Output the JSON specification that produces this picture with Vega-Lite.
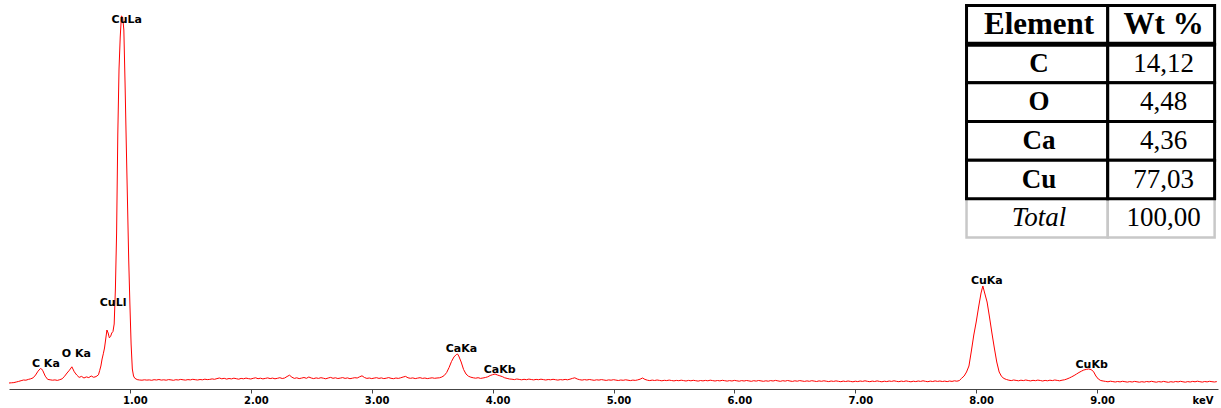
{
  "$schema": "https://vega.github.io/schema/vega-lite/v6.json",
  "width": 1209,
  "height": 389,
  "autosize": {"type": "none"},
  "padding": {"left": 9, "right": 3, "top": 0, "bottom": 19},
  "background": "white",
  "config": {"view": {"stroke": null}},
  "datasets": {
    "spectrum": [
      {"keV":0.00,"counts":60},{"keV":0.02,"counts":62},{"keV":0.04,"counts":64},{"keV":0.06,"counts":70},{"keV":0.08,"counts":76},
      {"keV":0.10,"counts":83},{"keV":0.12,"counts":90},{"keV":0.14,"counts":88},{"keV":0.16,"counts":96},{"keV":0.18,"counts":102},
      {"keV":0.20,"counts":112},{"keV":0.22,"counts":140},{"keV":0.24,"counts":178},{"keV":0.26,"counts":205},{"keV":0.27,"counts":200},
      {"keV":0.28,"counts":182},{"keV":0.30,"counts":128},{"keV":0.32,"counts":96},{"keV":0.34,"counts":92},{"keV":0.36,"counts":88},
      {"keV":0.38,"counts":91},{"keV":0.40,"counts":86},{"keV":0.42,"counts":93},{"keV":0.44,"counts":102},{"keV":0.46,"counts":128},
      {"keV":0.48,"counts":160},{"keV":0.50,"counts":188},{"keV":0.52,"counts":222},{"keV":0.54,"counts":172},{"keV":0.56,"counts":140},
      {"keV":0.58,"counts":116},{"keV":0.60,"counts":126},{"keV":0.62,"counts":110},{"keV":0.64,"counts":121},{"keV":0.66,"counts":114},
      {"keV":0.68,"counts":130},{"keV":0.70,"counts":117},{"keV":0.72,"counts":124},{"keV":0.74,"counts":142},{"keV":0.75,"counts":185},
      {"keV":0.76,"counts":230},{"keV":0.77,"counts":300},{"keV":0.78,"counts":352},{"keV":0.79,"counts":410},{"keV":0.80,"counts":500},
      {"keV":0.81,"counts":590},{"keV":0.82,"counts":560},{"keV":0.83,"counts":512},{"keV":0.84,"counts":525},{"keV":0.85,"counts":560},
      {"keV":0.86,"counts":575},{"keV":0.87,"counts":650},{"keV":0.88,"counts":1000},{"keV":0.89,"counts":1560},{"keV":0.90,"counts":2550},
      {"keV":0.91,"counts":3200},{"keV":0.92,"counts":3520},{"keV":0.93,"counts":3730},{"keV":0.94,"counts":3720},{"keV":0.95,"counts":3590},
      {"keV":0.96,"counts":3050},{"keV":0.97,"counts":2450},{"keV":0.98,"counts":1880},{"keV":0.99,"counts":1300},{"keV":1.00,"counts":850},
      {"keV":1.01,"counts":450},{"keV":1.02,"counts":200},{"keV":1.03,"counts":130},{"keV":1.04,"counts":108},
      {"keV":1.06,"counts":94},{"keV":1.08,"counts":90},{"keV":1.10,"counts":88},{"keV":1.12,"counts":92},{"keV":1.14,"counts":89},
      {"keV":1.16,"counts":91},{"keV":1.18,"counts":87},{"keV":1.20,"counts":93},{"keV":1.22,"counts":90},{"keV":1.24,"counts":95},
      {"keV":1.26,"counts":89},{"keV":1.28,"counts":92},{"keV":1.30,"counts":88},{"keV":1.32,"counts":94},{"keV":1.34,"counts":91},
      {"keV":1.36,"counts":87},{"keV":1.38,"counts":93},{"keV":1.40,"counts":90},{"keV":1.42,"counts":96},{"keV":1.44,"counts":92},
      {"keV":1.46,"counts":89},{"keV":1.48,"counts":94},{"keV":1.50,"counts":91},{"keV":1.52,"counts":97},{"keV":1.54,"counts":93},
      {"keV":1.56,"counts":90},{"keV":1.58,"counts":95},{"keV":1.60,"counts":92},{"keV":1.62,"counts":98},{"keV":1.64,"counts":94},
      {"keV":1.66,"counts":96},{"keV":1.68,"counts":101},{"keV":1.70,"counts":97},
      {"keV":1.72,"counts":104},{"keV":1.74,"counts":110},{"keV":1.76,"counts":102},{"keV":1.78,"counts":107},{"keV":1.80,"counts":99},
      {"keV":1.82,"counts":105},{"keV":1.84,"counts":101},{"keV":1.86,"counts":108},{"keV":1.88,"counts":103},{"keV":1.90,"counts":98},
      {"keV":1.92,"counts":106},{"keV":1.94,"counts":102},{"keV":1.96,"counts":109},{"keV":1.98,"counts":104},{"keV":2.00,"counts":100},
      {"keV":2.02,"counts":107},{"keV":2.04,"counts":112},{"keV":2.06,"counts":103},{"keV":2.08,"counts":108},{"keV":2.10,"counts":101},
      {"keV":2.12,"counts":106},{"keV":2.14,"counts":111},{"keV":2.16,"counts":104},{"keV":2.18,"counts":109},{"keV":2.20,"counts":102},
      {"keV":2.22,"counts":107},{"keV":2.24,"counts":113},{"keV":2.26,"counts":105},{"keV":2.28,"counts":110},{"keV":2.30,"counts":125},
      {"keV":2.32,"counts":138},{"keV":2.34,"counts":118},{"keV":2.36,"counts":106},{"keV":2.38,"counts":112},{"keV":2.40,"counts":104},
      {"keV":2.42,"counts":109},{"keV":2.44,"counts":115},{"keV":2.46,"counts":107},{"keV":2.48,"counts":120},{"keV":2.50,"counts":110},
      {"keV":2.52,"counts":104},{"keV":2.54,"counts":111},{"keV":2.56,"counts":106},{"keV":2.58,"counts":113},{"keV":2.60,"counts":108},
      {"keV":2.62,"counts":102},{"keV":2.64,"counts":110},{"keV":2.66,"counts":116},{"keV":2.68,"counts":107},{"keV":2.70,"counts":112},
      {"keV":2.72,"counts":105},{"keV":2.74,"counts":109},{"keV":2.76,"counts":114},{"keV":2.78,"counts":106},{"keV":2.80,"counts":111},
      {"keV":2.82,"counts":103},{"keV":2.84,"counts":108},{"keV":2.86,"counts":113},{"keV":2.88,"counts":110},{"keV":2.90,"counts":122},
      {"keV":2.92,"counts":132},{"keV":2.94,"counts":115},{"keV":2.96,"counts":106},{"keV":2.98,"counts":110},{"keV":3.00,"counts":104},
      {"keV":3.02,"counts":109},{"keV":3.04,"counts":113},{"keV":3.06,"counts":106},{"keV":3.08,"counts":111},{"keV":3.10,"counts":104},
      {"keV":3.12,"counts":108},{"keV":3.14,"counts":114},{"keV":3.16,"counts":107},{"keV":3.18,"counts":103},{"keV":3.20,"counts":110},
      {"keV":3.22,"counts":106},{"keV":3.24,"counts":112},{"keV":3.26,"counts":120},{"keV":3.28,"counts":126},{"keV":3.30,"counts":112},
      {"keV":3.32,"counts":107},{"keV":3.34,"counts":111},{"keV":3.36,"counts":104},{"keV":3.38,"counts":109},{"keV":3.40,"counts":113},
      {"keV":3.42,"counts":106},{"keV":3.44,"counts":110},{"keV":3.46,"counts":104},{"keV":3.48,"counts":108},{"keV":3.50,"counts":112},
      {"keV":3.52,"counts":107},{"keV":3.54,"counts":110},
      {"keV":3.56,"counts":112},{"keV":3.58,"counts":120},{"keV":3.60,"counts":135},{"keV":3.62,"counts":165},{"keV":3.64,"counts":215},
      {"keV":3.66,"counts":275},{"keV":3.68,"counts":320},{"keV":3.70,"counts":345},{"keV":3.71,"counts":350},{"keV":3.72,"counts":330},
      {"keV":3.74,"counts":270},{"keV":3.76,"counts":195},{"keV":3.78,"counts":150},{"keV":3.80,"counts":128},{"keV":3.82,"counts":118},
      {"keV":3.84,"counts":112},{"keV":3.86,"counts":108},{"keV":3.88,"counts":113},{"keV":3.90,"counts":106},{"keV":3.92,"counts":110},
      {"keV":3.94,"counts":115},{"keV":3.96,"counts":122},{"keV":3.98,"counts":135},{"keV":4.00,"counts":143},{"keV":4.02,"counts":150},
      {"keV":4.04,"counts":140},{"keV":4.06,"counts":132},{"keV":4.08,"counts":124},{"keV":4.10,"counts":112},{"keV":4.12,"counts":106},
      {"keV":4.14,"counts":100},
      {"keV":4.16,"counts":98},{"keV":4.18,"counts":94},{"keV":4.20,"counts":100},{"keV":4.22,"counts":96},{"keV":4.24,"counts":92},
      {"keV":4.26,"counts":97},{"keV":4.28,"counts":93},{"keV":4.30,"counts":99},{"keV":4.32,"counts":95},{"keV":4.34,"counts":91},
      {"keV":4.36,"counts":96},{"keV":4.38,"counts":93},{"keV":4.40,"counts":98},{"keV":4.42,"counts":94},{"keV":4.44,"counts":90},
      {"keV":4.46,"counts":95},{"keV":4.48,"counts":92},{"keV":4.50,"counts":97},{"keV":4.52,"counts":93},{"keV":4.54,"counts":89},
      {"keV":4.56,"counts":94},{"keV":4.58,"counts":91},{"keV":4.60,"counts":96},{"keV":4.62,"counts":92},{"keV":4.64,"counts":98},
      {"keV":4.66,"counts":106},{"keV":4.68,"counts":112},{"keV":4.70,"counts":100},{"keV":4.72,"counts":93},{"keV":4.74,"counts":89},
      {"keV":4.76,"counts":94},{"keV":4.78,"counts":90},{"keV":4.80,"counts":95},{"keV":4.82,"counts":91},{"keV":4.84,"counts":87},
      {"keV":4.86,"counts":92},{"keV":4.88,"counts":89},{"keV":4.90,"counts":94},{"keV":4.92,"counts":90},{"keV":4.94,"counts":86},
      {"keV":4.96,"counts":91},{"keV":4.98,"counts":88},{"keV":5.00,"counts":93},{"keV":5.02,"counts":89},{"keV":5.04,"counts":85},
      {"keV":5.06,"counts":90},{"keV":5.08,"counts":87},{"keV":5.10,"counts":92},{"keV":5.12,"counts":88},{"keV":5.14,"counts":84},
      {"keV":5.16,"counts":89},{"keV":5.18,"counts":86},{"keV":5.20,"counts":91},{"keV":5.22,"counts":98},{"keV":5.24,"counts":110},
      {"keV":5.26,"counts":96},{"keV":5.28,"counts":88},{"keV":5.30,"counts":84},{"keV":5.32,"counts":89},{"keV":5.34,"counts":85},
      {"keV":5.36,"counts":90},{"keV":5.38,"counts":86},{"keV":5.40,"counts":82},{"keV":5.42,"counts":87},{"keV":5.44,"counts":84},
      {"keV":5.46,"counts":89},{"keV":5.48,"counts":85},{"keV":5.50,"counts":81},{"keV":5.52,"counts":86},{"keV":5.54,"counts":83},
      {"keV":5.56,"counts":88},{"keV":5.58,"counts":84},{"keV":5.60,"counts":80},{"keV":5.62,"counts":86},{"keV":5.64,"counts":82},
      {"keV":5.66,"counts":87},{"keV":5.68,"counts":83},{"keV":5.70,"counts":79},{"keV":5.72,"counts":85},{"keV":5.74,"counts":81},
      {"keV":5.76,"counts":86},{"keV":5.78,"counts":82},{"keV":5.80,"counts":88},{"keV":5.82,"counts":84},{"keV":5.84,"counts":80},
      {"keV":5.86,"counts":85},{"keV":5.88,"counts":81},{"keV":5.90,"counts":87},{"keV":5.92,"counts":83},{"keV":5.94,"counts":79},
      {"keV":5.96,"counts":84},{"keV":5.98,"counts":80},{"keV":6.00,"counts":86},{"keV":6.02,"counts":82},{"keV":6.04,"counts":78},
      {"keV":6.06,"counts":84},{"keV":6.08,"counts":80},{"keV":6.10,"counts":85},{"keV":6.12,"counts":81},{"keV":6.14,"counts":77},
      {"keV":6.16,"counts":83},{"keV":6.18,"counts":79},{"keV":6.20,"counts":85},{"keV":6.22,"counts":81},{"keV":6.24,"counts":77},
      {"keV":6.26,"counts":82},{"keV":6.28,"counts":78},{"keV":6.30,"counts":84},{"keV":6.32,"counts":80},{"keV":6.34,"counts":86},
      {"keV":6.36,"counts":81},{"keV":6.38,"counts":77},{"keV":6.40,"counts":83},{"keV":6.42,"counts":79},{"keV":6.44,"counts":85},
      {"keV":6.46,"counts":80},{"keV":6.48,"counts":76},{"keV":6.50,"counts":82},{"keV":6.52,"counts":78},{"keV":6.54,"counts":84},
      {"keV":6.56,"counts":80},{"keV":6.58,"counts":76},{"keV":6.60,"counts":81},{"keV":6.62,"counts":77},{"keV":6.64,"counts":83},
      {"keV":6.66,"counts":79},{"keV":6.68,"counts":75},{"keV":6.70,"counts":81},{"keV":6.72,"counts":77},{"keV":6.74,"counts":82},
      {"keV":6.76,"counts":78},{"keV":6.78,"counts":74},{"keV":6.80,"counts":80},{"keV":6.82,"counts":76},{"keV":6.84,"counts":81},
      {"keV":6.86,"counts":77},{"keV":6.88,"counts":73},{"keV":6.90,"counts":79},{"keV":6.92,"counts":75},{"keV":6.94,"counts":80},
      {"keV":6.96,"counts":76},{"keV":6.98,"counts":72},{"keV":7.00,"counts":78},{"keV":7.02,"counts":74},{"keV":7.04,"counts":80},
      {"keV":7.06,"counts":76},{"keV":7.08,"counts":82},{"keV":7.10,"counts":77},{"keV":7.12,"counts":73},{"keV":7.14,"counts":79},
      {"keV":7.16,"counts":75},{"keV":7.18,"counts":81},{"keV":7.20,"counts":76},{"keV":7.22,"counts":72},{"keV":7.24,"counts":78},
      {"keV":7.26,"counts":74},{"keV":7.28,"counts":80},{"keV":7.30,"counts":76},{"keV":7.32,"counts":82},{"keV":7.34,"counts":77},
      {"keV":7.36,"counts":73},{"keV":7.38,"counts":79},{"keV":7.40,"counts":75},{"keV":7.42,"counts":81},{"keV":7.44,"counts":76},
      {"keV":7.46,"counts":72},{"keV":7.48,"counts":78},{"keV":7.50,"counts":74},{"keV":7.52,"counts":80},{"keV":7.54,"counts":76},
      {"keV":7.56,"counts":82},{"keV":7.58,"counts":77},{"keV":7.60,"counts":73},{"keV":7.62,"counts":79},{"keV":7.64,"counts":75},
      {"keV":7.66,"counts":81},{"keV":7.68,"counts":76},{"keV":7.70,"counts":80},{"keV":7.72,"counts":75},{"keV":7.74,"counts":79},
      {"keV":7.76,"counts":74},{"keV":7.78,"counts":80},{"keV":7.80,"counts":76},{"keV":7.82,"counts":82},{"keV":7.84,"counts":78},
      {"keV":7.86,"counts":84},
      {"keV":7.88,"counts":108},{"keV":7.90,"counts":130},{"keV":7.92,"counts":170},{"keV":7.94,"counts":230},{"keV":7.96,"counts":380},
      {"keV":7.98,"counts":540},{"keV":8.00,"counts":670},{"keV":8.02,"counts":820},{"keV":8.04,"counts":960},{"keV":8.055,"counts":1030},
      {"keV":8.07,"counts":960},{"keV":8.09,"counts":870},{"keV":8.11,"counts":720},{"keV":8.13,"counts":560},{"keV":8.15,"counts":410},
      {"keV":8.17,"counts":270},{"keV":8.19,"counts":170},{"keV":8.21,"counts":125},{"keV":8.23,"counts":105},{"keV":8.25,"counts":95},
      {"keV":8.27,"counts":88},{"keV":8.29,"counts":84},{"keV":8.31,"counts":90},{"keV":8.33,"counts":86},{"keV":8.35,"counts":82},
      {"keV":8.37,"counts":88},{"keV":8.39,"counts":84},{"keV":8.41,"counts":90},{"keV":8.43,"counts":85},{"keV":8.45,"counts":81},
      {"keV":8.47,"counts":87},{"keV":8.49,"counts":83},{"keV":8.51,"counts":89},{"keV":8.53,"counts":85},{"keV":8.55,"counts":80},
      {"keV":8.57,"counts":86},{"keV":8.59,"counts":82},{"keV":8.61,"counts":88},{"keV":8.63,"counts":84},{"keV":8.65,"counts":90},
      {"keV":8.67,"counts":86},{"keV":8.69,"counts":82},{"keV":8.71,"counts":88},{"keV":8.73,"counts":92},
      {"keV":8.75,"counts":100},{"keV":8.77,"counts":110},{"keV":8.79,"counts":122},{"keV":8.81,"counts":135},{"keV":8.83,"counts":150},
      {"keV":8.85,"counts":165},{"keV":8.87,"counts":178},{"keV":8.89,"counts":190},{"keV":8.91,"counts":196},{"keV":8.93,"counts":200},
      {"keV":8.95,"counts":194},{"keV":8.97,"counts":175},{"keV":8.99,"counts":130},{"keV":9.01,"counts":100},{"keV":9.03,"counts":85},
      {"keV":9.05,"counts":80},
      {"keV":9.07,"counts":76},{"keV":9.09,"counts":72},{"keV":9.11,"counts":78},{"keV":9.13,"counts":74},{"keV":9.15,"counts":70},
      {"keV":9.17,"counts":75},{"keV":9.19,"counts":71},{"keV":9.21,"counts":77},{"keV":9.23,"counts":73},{"keV":9.25,"counts":69},
      {"keV":9.27,"counts":74},{"keV":9.29,"counts":70},{"keV":9.31,"counts":76},{"keV":9.33,"counts":72},{"keV":9.35,"counts":68},
      {"keV":9.37,"counts":73},{"keV":9.39,"counts":69},{"keV":9.41,"counts":75},{"keV":9.43,"counts":71},{"keV":9.45,"counts":77},
      {"keV":9.47,"counts":72},{"keV":9.49,"counts":68},{"keV":9.51,"counts":74},{"keV":9.53,"counts":70},{"keV":9.55,"counts":76},
      {"keV":9.57,"counts":71},{"keV":9.59,"counts":67},{"keV":9.61,"counts":73},{"keV":9.63,"counts":69},{"keV":9.65,"counts":75},
      {"keV":9.67,"counts":71},{"keV":9.69,"counts":77},{"keV":9.71,"counts":72},{"keV":9.73,"counts":68},{"keV":9.75,"counts":74},
      {"keV":9.77,"counts":70},{"keV":9.79,"counts":76},{"keV":9.81,"counts":72},{"keV":9.83,"counts":78},{"keV":9.85,"counts":73},
      {"keV":9.87,"counts":69},{"keV":9.89,"counts":75},{"keV":9.91,"counts":71},{"keV":9.93,"counts":77},{"keV":9.95,"counts":73},
      {"keV":9.97,"counts":70},{"keV":9.99,"counts":74}
    ],
    "peaks": [
      {"line": "C Ka", "keV": 0.305, "counts": 223},
      {"line": "O Ka", "keV": 0.557, "counts": 323},
      {"line": "CuLl", "keV": 0.861, "counts": 830},
      {"line": "CuLa", "keV": 0.974, "counts": 3657},
      {"line": "CaKa", "keV": 3.742, "counts": 373},
      {"line": "CaKb", "keV": 4.058, "counts": 157},
      {"line": "CuKa", "keV": 8.088, "counts": 1050},
      {"line": "CuKb", "keV": 8.955, "counts": 207}
    ],
    "composition": [
      {"element": "Element", "wt": "Wt %", "part": "header"},
      {"element": "C", "wt": "14,12", "part": "body"},
      {"element": "O", "wt": "4,48", "part": "body"},
      {"element": "Ca", "wt": "4,36", "part": "body"},
      {"element": "Cu", "wt": "77,03", "part": "body"},
      {"element": "Total", "wt": "100,00", "part": "total"}
    ]
  },
  "layer": [
    {
      "data": {"name": "spectrum"},
      "mark": {"type": "line", "color": "#ff0000", "strokeWidth": 1},
      "encoding": {
        "x": {
          "field": "keV", "type": "quantitative",
          "scale": {"domain": [0, 10], "nice": false, "zero": false},
          "axis": {
            "values": [1, 2, 3, 4, 5, 6, 7, 8, 9],
            "format": ".2f",
            "grid": false,
            "domainColor": "#444444",
            "tickColor": "#444444",
            "tickSize": 4,
            "labelFont": "DejaVu Sans",
            "labelFontWeight": "bold",
            "labelFontSize": 10,
            "labelColor": "#000000",
            "labelBaseline": "alphabetic",
            "labelPadding": 10,
            "labelOffset": 5,
            "labelFlush": false,
            "labelOverlap": false,
            "title": "keV",
            "titleFont": "DejaVu Sans",
            "titleFontWeight": "bold",
            "titleFontSize": 10,
            "titleColor": "#000000",
            "titleAnchor": "end",
            "titleAlign": "right",
            "titleBaseline": "alphabetic",
            "titleX": 1204,
            "titleY": 14
          }
        },
        "y": {
          "field": "counts", "type": "quantitative",
          "scale": {"domain": [0, 3890], "nice": false, "zero": true},
          "axis": null
        }
      }
    },
    {
      "data": {"name": "peaks"},
      "mark": {
        "type": "text", "font": "DejaVu Sans", "fontWeight": "bold",
        "fontSize": 11, "align": "center", "baseline": "alphabetic", "color": "#000000"
      },
      "encoding": {
        "x": {"field": "keV", "type": "quantitative"},
        "y": {
          "field": "counts", "type": "quantitative",
          "scale": {"domain": [0, 3890], "nice": false, "zero": true},
          "axis": null
        },
        "text": {"field": "line"}
      }
    },
    {
      "data": {"name": "composition"},
      "encoding": {
        "y": {
          "field": "element", "type": "nominal",
          "scale": {
            "type": "band",
            "domain": ["Element", "C", "O", "Ca", "Cu", "Total"],
            "range": [5.5, 237.5],
            "paddingInner": 0, "paddingOuter": 0, "round": false
          },
          "axis": null
        }
      },
      "layer": [
        {
          "transform": [{"filter": "datum.part === 'total'"}],
          "mark": {"type": "rect", "fill": "white", "stroke": "#c8c8c8", "strokeWidth": 2.5},
          "encoding": {"x": {"datum": 7.92}, "x2": {"datum": 9.088}}
        },
        {
          "transform": [{"filter": "datum.part === 'total'"}],
          "mark": {"type": "rect", "fill": "white", "stroke": "#c8c8c8", "strokeWidth": 2.5},
          "encoding": {"x": {"datum": 9.088}, "x2": {"datum": 9.972}}
        },
        {
          "transform": [{"filter": "datum.part !== 'total'"}],
          "mark": {"type": "rect", "fill": "white", "stroke": "#000000", "strokeWidth": 3},
          "encoding": {"x": {"datum": 7.92}, "x2": {"datum": 9.088}}
        },
        {
          "transform": [{"filter": "datum.part !== 'total'"}],
          "mark": {"type": "rect", "fill": "white", "stroke": "#000000", "strokeWidth": 3},
          "encoding": {"x": {"datum": 9.088}, "x2": {"datum": 9.972}}
        },
        {
          "transform": [{"filter": "datum.part === 'header'"}],
          "mark": {"type": "rule", "stroke": "#000000", "strokeWidth": 5},
          "encoding": {
            "x": {"datum": 7.92}, "x2": {"datum": 9.972},
            "y": {"field": "element", "type": "nominal", "bandPosition": 1}
          }
        },
        {
          "transform": [{"filter": "datum.part === 'header'"}],
          "mark": {"type": "text", "font": "Liberation Serif", "fontWeight": "bold", "fontSize": 31, "baseline": "middle", "color": "#000000"},
          "encoding": {"x": {"datum": 8.52}, "text": {"field": "element"}}
        },
        {
          "transform": [{"filter": "datum.part === 'header'"}],
          "mark": {"type": "text", "font": "Liberation Serif", "fontWeight": "bold", "fontSize": 31, "baseline": "middle", "color": "#000000"},
          "encoding": {"x": {"datum": 9.55}, "text": {"field": "wt"}}
        },
        {
          "transform": [{"filter": "datum.part === 'body'"}],
          "mark": {"type": "text", "font": "Liberation Serif", "fontWeight": "bold", "fontSize": 27, "baseline": "middle", "color": "#000000"},
          "encoding": {"x": {"datum": 8.52}, "text": {"field": "element"}}
        },
        {
          "transform": [{"filter": "datum.part === 'body'"}],
          "mark": {"type": "text", "font": "Liberation Serif", "fontSize": 27, "baseline": "middle", "color": "#000000"},
          "encoding": {"x": {"datum": 9.55}, "text": {"field": "wt"}}
        },
        {
          "transform": [{"filter": "datum.part === 'total'"}],
          "mark": {"type": "text", "font": "Liberation Serif", "fontStyle": "italic", "fontSize": 27, "baseline": "middle", "color": "#000000"},
          "encoding": {"x": {"datum": 8.52}, "text": {"field": "element"}}
        },
        {
          "transform": [{"filter": "datum.part === 'total'"}],
          "mark": {"type": "text", "font": "Liberation Serif", "fontSize": 27, "baseline": "middle", "color": "#000000"},
          "encoding": {"x": {"datum": 9.55}, "text": {"field": "wt"}}
        }
      ]
    }
  ],
  "resolve": {"scale": {"y": "independent"}}
}
